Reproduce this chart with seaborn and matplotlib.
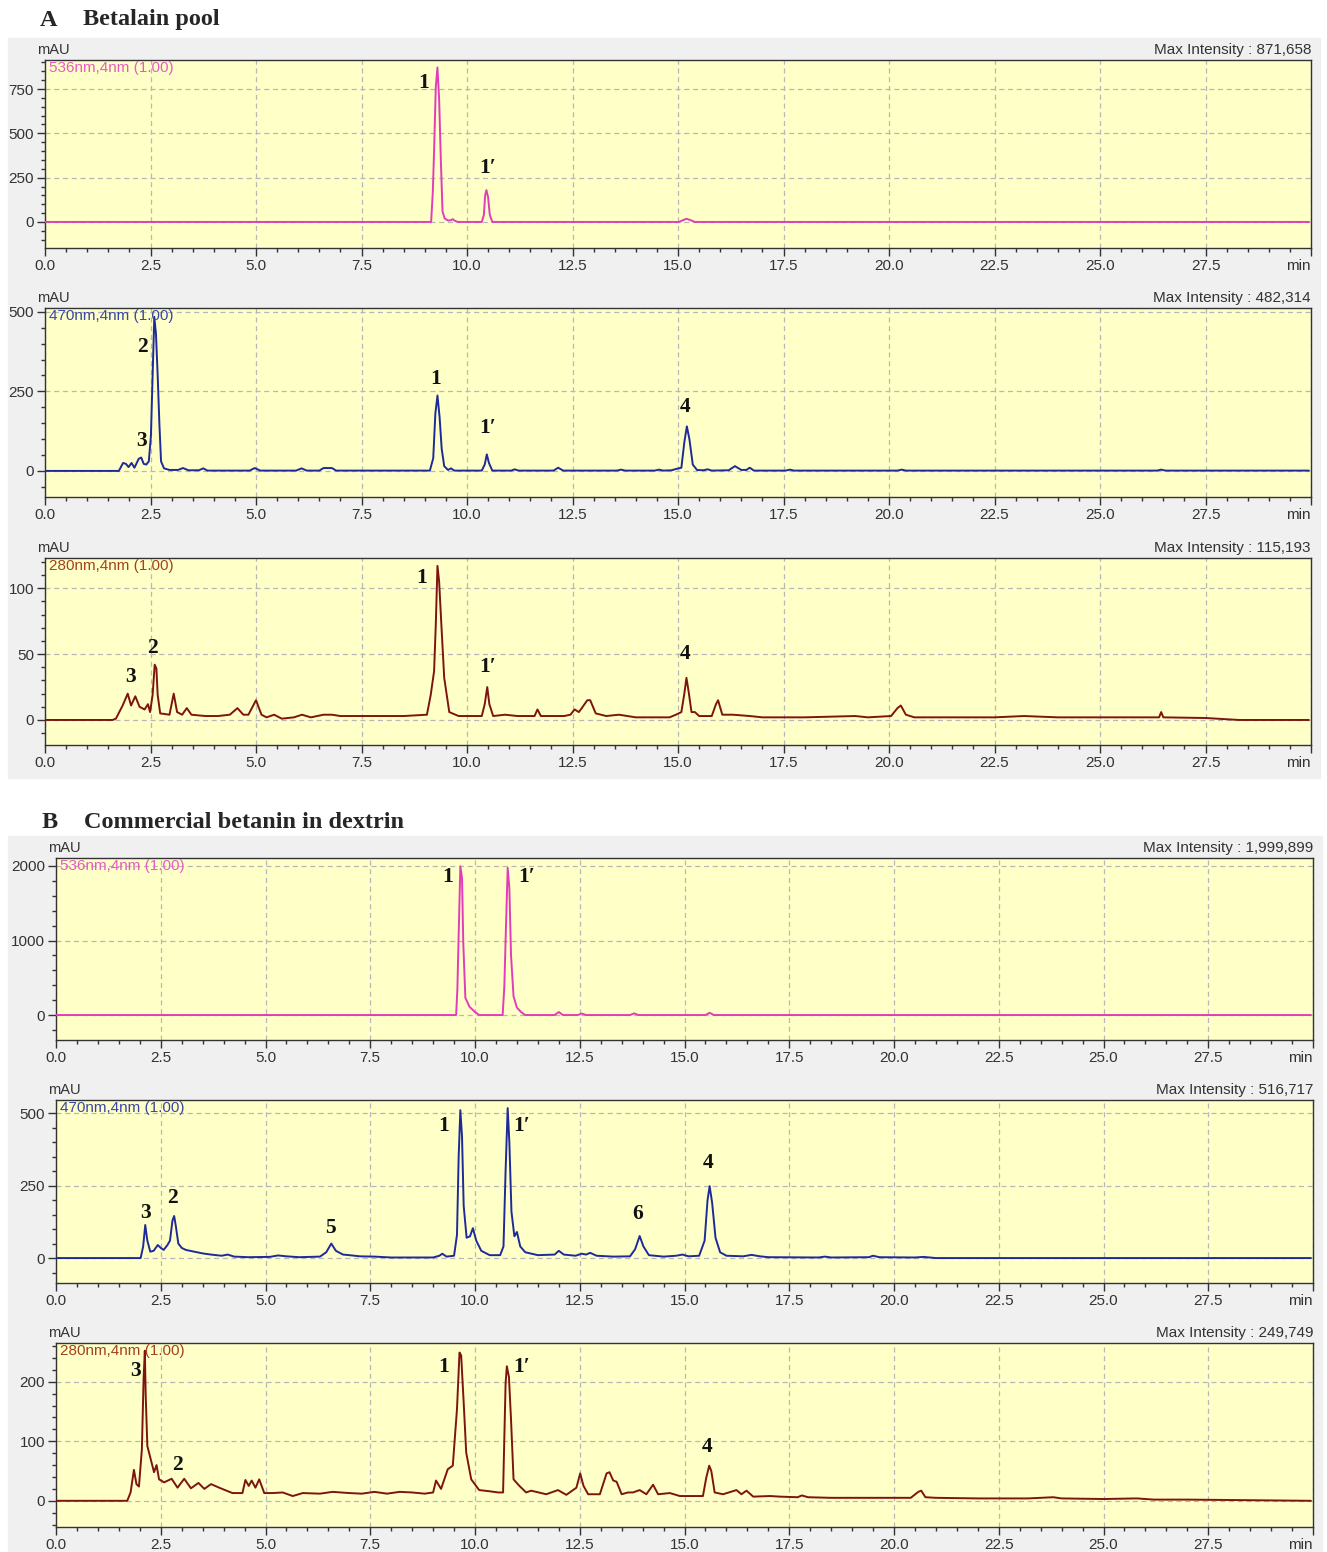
import matplotlib
matplotlib.use("Agg")
import matplotlib.pyplot as plt
from matplotlib.patches import Rectangle
from matplotlib.ticker import MultipleLocator
import numpy as np
import pandas as pd
import seaborn as sns

# chromatogram traces: (retention time [min], absorbance [mAU])
a536 = [(0.0, 0), (9.15, 0), (9.19, 170), (9.22, 400), (9.26, 760), (9.30, 872), (9.34, 690),
        (9.38, 350), (9.42, 60), (9.47, 20), (9.55, 8), (9.62, 10), (9.66, 16), (9.70, 8), (9.78, 0),
        (10.35, 0), (10.40, 40), (10.43, 150), (10.46, 180), (10.50, 140), (10.54, 40), (10.60, 0),
        (15.02, 0), (15.12, 10), (15.20, 18), (15.30, 10), (15.40, 0), (29.95, 0)]

a470 = [(0.0, 0), (1.75, 0), (1.85, 25), (1.92, 22), (1.98, 12), (2.05, 25), (2.12, 10), (2.22, 38),
        (2.28, 42), (2.34, 22), (2.40, 20), (2.46, 30), (2.51, 110), (2.55, 300), (2.59, 484),
        (2.63, 430), (2.67, 300), (2.71, 150), (2.75, 30), (2.82, 8), (2.95, 3), (3.15, 3), (3.27, 9),
        (3.40, 2), (3.65, 2), (3.75, 8), (3.85, 1), (4.85, 1), (4.97, 9), (5.10, 1), (5.95, 1),
        (6.08, 8), (6.20, 1), (6.50, 1), (6.60, 9), (6.80, 9), (6.90, 1), (9.12, 1), (9.20, 40),
        (9.25, 180), (9.30, 237), (9.35, 170), (9.40, 70), (9.46, 15), (9.55, 3), (9.62, 8),
        (9.70, 1), (10.35, 1), (10.42, 20), (10.47, 52), (10.52, 25), (10.60, 1), (11.05, 1),
        (11.13, 5), (11.22, 1), (12.05, 1), (12.16, 10), (12.28, 1), (13.55, 1), (13.65, 4),
        (13.75, 1), (14.45, 1), (14.55, 4), (14.65, 1), (14.85, 2), (14.95, 6), (15.08, 10),
        (15.15, 90), (15.21, 140), (15.27, 100), (15.35, 20), (15.45, 3), (15.60, 2), (15.70, 5),
        (15.80, 1), (16.20, 2), (16.35, 15), (16.50, 3), (16.62, 3), (16.70, 10), (16.80, 1),
        (17.55, 1), (17.65, 4), (17.75, 1), (20.20, 1), (20.30, 4), (20.40, 1), (26.35, 1),
        (26.45, 4), (26.55, 1), (29.95, 1)]

a280 = [(0.0, 0), (1.60, 0), (1.68, 1), (1.84, 11), (1.96, 20), (2.04, 11), (2.14, 18), (2.24, 10),
        (2.36, 8), (2.44, 12), (2.49, 6), (2.55, 19), (2.60, 42), (2.64, 39), (2.67, 19), (2.73, 5),
        (2.95, 4), (3.05, 20), (3.13, 6), (3.25, 4), (3.36, 9), (3.47, 4), (3.80, 3), (4.10, 3),
        (4.38, 4), (4.56, 9), (4.70, 4), (4.82, 4), (5.00, 15), (5.13, 4), (5.25, 2), (5.43, 4),
        (5.61, 1), (5.90, 2), (6.09, 4), (6.30, 2), (6.60, 4), (6.80, 4), (7.00, 3), (8.50, 3),
        (9.05, 4), (9.14, 19), (9.22, 37), (9.26, 72), (9.30, 117), (9.34, 105), (9.38, 80),
        (9.46, 32), (9.58, 6), (9.80, 3), (10.35, 3), (10.42, 12), (10.48, 25), (10.53, 12),
        (10.62, 3), (10.90, 4), (11.20, 3), (11.60, 3), (11.67, 8), (11.75, 3), (12.30, 3),
        (12.45, 4), (12.55, 8), (12.65, 6), (12.72, 9), (12.85, 15), (12.92, 15), (13.05, 5),
        (13.30, 3), (13.60, 4), (14.00, 2), (14.80, 2), (14.95, 4), (15.08, 6), (15.15, 20),
        (15.20, 32), (15.25, 22), (15.32, 6), (15.40, 6), (15.50, 3), (15.80, 3), (15.90, 12),
        (15.95, 15), (16.05, 4), (16.30, 4), (16.70, 3), (17.00, 2), (18.00, 2), (19.20, 3),
        (19.50, 2), (20.05, 3), (20.20, 9), (20.28, 11), (20.40, 4), (20.60, 2), (21.50, 2),
        (22.50, 2), (23.20, 3), (24.00, 2), (25.00, 2), (26.40, 2), (26.45, 6), (26.50, 2),
        (27.50, 1.5), (28.30, 0), (29.95, 0)]

b536 = [(0.0, 0), (9.55, 0), (9.58, 360), (9.61, 1070), (9.65, 1995), (9.69, 1840), (9.72, 970),
        (9.77, 230), (9.87, 110), (9.99, 45), (10.10, 0), (10.66, 0), (10.70, 380), (10.74, 1200),
        (10.78, 1975), (10.82, 1700), (10.86, 800), (10.92, 250), (11.00, 100), (11.10, 40),
        (11.20, 0), (11.90, 0), (12.00, 40), (12.10, 0), (12.45, 0), (12.55, 20), (12.65, 0),
        (13.70, 0), (13.80, 22), (13.90, 0), (15.50, 0), (15.60, 30), (15.70, 0), (29.95, 0)]

b470 = [(0.0, 0), (2.02, 0), (2.08, 40), (2.13, 114), (2.18, 60), (2.25, 22), (2.33, 25), (2.43, 45),
        (2.50, 35), (2.57, 28), (2.66, 45), (2.72, 60), (2.78, 130), (2.82, 145), (2.86, 110),
        (2.92, 50), (3.00, 35), (3.10, 28), (3.30, 22), (3.50, 16), (3.70, 12), (3.95, 8), (4.10, 12),
        (4.25, 5), (4.60, 3), (5.10, 4), (5.30, 9), (5.50, 6), (5.80, 3), (6.30, 5), (6.45, 20),
        (6.57, 50), (6.68, 25), (6.85, 12), (7.00, 10), (7.25, 6), (7.60, 5), (8.00, 2), (9.00, 2),
        (9.15, 8), (9.22, 15), (9.32, 5), (9.50, 8), (9.57, 80), (9.61, 350), (9.65, 510),
        (9.69, 420), (9.73, 180), (9.80, 70), (9.88, 75), (9.95, 103), (10.03, 60), (10.15, 25),
        (10.35, 10), (10.60, 10), (10.68, 40), (10.73, 300), (10.78, 517), (10.82, 400),
        (10.87, 160), (10.94, 75), (11.00, 90), (11.08, 40), (11.20, 20), (11.50, 10), (11.90, 12),
        (12.00, 25), (12.12, 12), (12.40, 8), (12.55, 15), (12.65, 12), (12.75, 18), (12.90, 8),
        (13.30, 5), (13.70, 6), (13.82, 30), (13.93, 76), (14.02, 40), (14.15, 10), (14.50, 5),
        (14.80, 8), (14.95, 12), (15.10, 6), (15.35, 8), (15.48, 60), (15.55, 200), (15.60, 248),
        (15.66, 190), (15.74, 70), (15.85, 20), (16.00, 8), (16.40, 6), (16.60, 11), (16.80, 6),
        (17.00, 3), (18.20, 2), (18.35, 5), (18.50, 2), (19.40, 3), (19.50, 8), (19.65, 3),
        (20.50, 2), (20.70, 4), (21.00, 0), (29.95, 0)]

b280 = [(0.0, 0), (1.70, 0), (1.78, 14), (1.86, 52), (1.92, 28), (1.98, 24), (2.05, 87), (2.09, 204),
        (2.12, 252), (2.14, 179), (2.18, 92), (2.26, 70), (2.34, 48), (2.40, 60), (2.46, 36),
        (2.58, 31), (2.76, 37), (2.90, 22), (3.06, 37), (3.22, 21), (3.40, 30), (3.54, 20),
        (3.70, 28), (3.93, 21), (4.21, 13), (4.45, 13), (4.52, 35), (4.60, 25), (4.67, 34),
        (4.76, 22), (4.85, 36), (4.97, 13), (5.17, 13), (5.41, 14), (5.65, 8), (5.89, 13),
        (6.30, 12), (6.60, 15), (7.00, 13), (7.30, 12), (7.60, 15), (7.90, 12), (8.20, 15),
        (8.50, 14), (8.80, 12), (9.00, 14), (9.07, 34), (9.19, 20), (9.35, 53), (9.47, 59),
        (9.57, 154), (9.63, 249), (9.67, 244), (9.73, 165), (9.79, 81), (9.91, 36), (10.10, 18),
        (10.35, 16), (10.55, 14), (10.67, 14), (10.73, 197), (10.76, 226), (10.81, 208),
        (10.86, 136), (10.92, 36), (11.06, 25), (11.22, 14), (11.34, 17), (11.70, 11), (11.98, 18),
        (12.18, 10), (12.42, 22), (12.51, 46), (12.59, 25), (12.70, 11), (12.98, 11), (13.14, 46),
        (13.21, 48), (13.30, 34), (13.38, 32), (13.50, 11), (13.65, 14), (13.77, 14), (13.93, 18),
        (14.09, 11), (14.25, 27), (14.37, 11), (14.65, 13), (14.89, 8), (15.44, 8), (15.52, 39),
        (15.59, 59), (15.64, 50), (15.72, 14), (15.92, 11), (16.24, 18), (16.36, 11), (16.48, 17),
        (16.64, 7), (17.04, 8), (17.28, 7), (17.70, 6), (17.80, 9), (17.95, 6), (18.50, 5),
        (19.40, 5), (20.40, 5), (20.58, 15), (20.65, 17), (20.75, 6), (21.00, 5), (22.00, 4),
        (23.20, 4), (23.80, 6), (24.00, 4), (25.00, 3), (25.80, 4), (26.20, 2), (27.00, 2),
        (28.50, 1), (29.95, 0)]

max_intensity = ["871,658", "482,314", "115,193", "1,999,899", "516,717", "249,749"]
channels = ["536nm,4nm (1.00)", "470nm,4nm (1.00)", "280nm,4nm (1.00)"]

sns.set_style("ticks")
plt.rcParams["font.family"] = ["Liberation Sans", "DejaVu Sans"]

W, H = 1327, 1552
fig = plt.figure(figsize=(W / 100, H / 100), dpi=100)

# grey software panels behind each group
for (x0, y0, x1, y1) in [(8, 38, 1320, 778), (8, 836, 1322, 1552)]:
    fig.patches.append(Rectangle((x0 / W, 1 - y1 / H), (x1 - x0) / W, (y1 - y0) / H,
                                 transform=fig.transFigure, color="#F0F0F0", zorder=-5))

serif = ["Liberation Serif", "DejaVu Serif"]
fig.text(40 / W, 1 - 20 / H, "A", fontsize=17.5, weight="bold", family=serif, va="center")
fig.text(83 / W, 1 - 20 / H, "Betalain pool", fontsize=17.5, weight="bold", family=serif,
         va="center")
fig.text(42 / W, 1 - 822 / H, "B", fontsize=17.5, weight="bold", family=serif, va="center")
fig.text(84 / W, 1 - 822 / H, "Commercial betanin in dextrin", fontsize=17.5, weight="bold",
         family=serif, va="center")

line_cols = ["#E23DB8", "#1E2A9A", "#7E1410"]
text_cols = ["#E65CC6", "#3847A8", "#A2421E"]

panels = [
    # trace, channel idx, px left/right, px top/bottom, ylim, major, minor, peak labels
    (a536, 0, (45, 1311), (60, 248), (-147, 914), 250, 50,
     [("1", 8.98, 784), ("1′", 10.5, 305)]),
    (a470, 1, (45, 1311), (308, 497), (-82, 512), 250, 50,
     [("2", 2.31, 390), ("3", 2.29, 94), ("1", 9.26, 289), ("1′", 10.5, 135), ("4", 15.17, 201)]),
    (a280, 2, (45, 1311), (558, 745), (-19, 123), 50, 10,
     [("3", 2.02, 33), ("2", 2.55, 55), ("1", 8.93, 108), ("1′", 10.5, 40), ("4", 15.17, 50)]),
    (b536, 0, (56, 1313), (858, 1040), (-335, 2107), 1000, 200,
     [("1", 9.34, 1852), ("1′", 11.23, 1852)]),
    (b470, 1, (56, 1313), (1100, 1283), (-86, 545), 250, 50,
     [("3", 2.13, 155), ("2", 2.77, 207), ("5", 6.55, 103), ("1", 9.25, 455), ("1′", 11.11, 455),
      ("6", 13.88, 152), ("4", 15.56, 328)]),
    (b280, 2, (56, 1313), (1343, 1527), (-44, 265), 100, 20,
     [("3", 1.89, 218), ("2", 2.89, 60), ("1", 9.25, 225), ("1′", 11.11, 225), ("4", 15.53, 91)]),
]

for i, (trace, ch, (xl, xr), (yt, yb), ylim, major, minor, peaks) in enumerate(panels):
    ax = fig.add_axes([xl / W, 1 - yb / H, (xr - xl) / W, (yb - yt) / H])
    ax.set_facecolor("#FFFFC8")
    df = pd.DataFrame(trace, columns=["t", "mAU"])
    sns.lineplot(data=df, x="t", y="mAU", ax=ax, color=line_cols[ch], lw=1.4,
                 estimator=None, sort=False, zorder=3)
    ax.set_xlim(0, 30)
    ax.set_ylim(*ylim)
    ax.set_xlabel("")
    ax.set_ylabel("")

    xt = list(np.arange(0, 27.6, 2.5)) + [30]
    ax.set_xticks(xt)
    ax.set_xticklabels([f"{v:.1f}" for v in xt[:-1]] + ["min"])
    ax.get_xticklabels()[-1].set_horizontalalignment("right")
    ax.xaxis.set_minor_locator(MultipleLocator(0.5))
    yt_vals = np.arange(0, ylim[1], major)
    ax.set_yticks(yt_vals)
    ax.set_yticklabels([f"{int(v)}" for v in yt_vals])
    ax.yaxis.set_minor_locator(MultipleLocator(minor))

    ax.tick_params(which="major", direction="out", length=6, width=1, color="#333333",
                   labelsize=11, labelcolor="#333333", pad=2)
    ax.tick_params(which="minor", direction="out", length=3, width=1, color="#333333")
    for s in ax.spines.values():
        s.set_visible(True)
        s.set_color("#333333")
        s.set_linewidth(1)

    ax.grid(True, which="major", ls=(0, (4, 3)), color="#B8B8B8", lw=0.9)
    ax.set_axisbelow(True)

    ax.text(0.003, 0.995, channels[ch], transform=ax.transAxes, color=text_cols[ch],
            fontsize=11, ha="left", va="top", zorder=4)
    ax.annotate("mAU", xy=(0, 1), xycoords="axes fraction", xytext=(-6, 2),
                textcoords="offset points", fontsize=10.5, color="#333333", ha="left",
                va="bottom")
    ax.annotate(f"Max Intensity : {max_intensity[i]}", xy=(1, 1), xycoords="axes fraction",
                xytext=(0, 2), textcoords="offset points", fontsize=11, color="#333333",
                ha="right", va="bottom")

    for lab, tx, ty in peaks:
        ax.text(tx, ty, lab, fontsize=15.5, weight="bold", family=serif, ha="center",
                va="center", color="#111111", zorder=5)

fig.savefig("out.png", dpi=100)
